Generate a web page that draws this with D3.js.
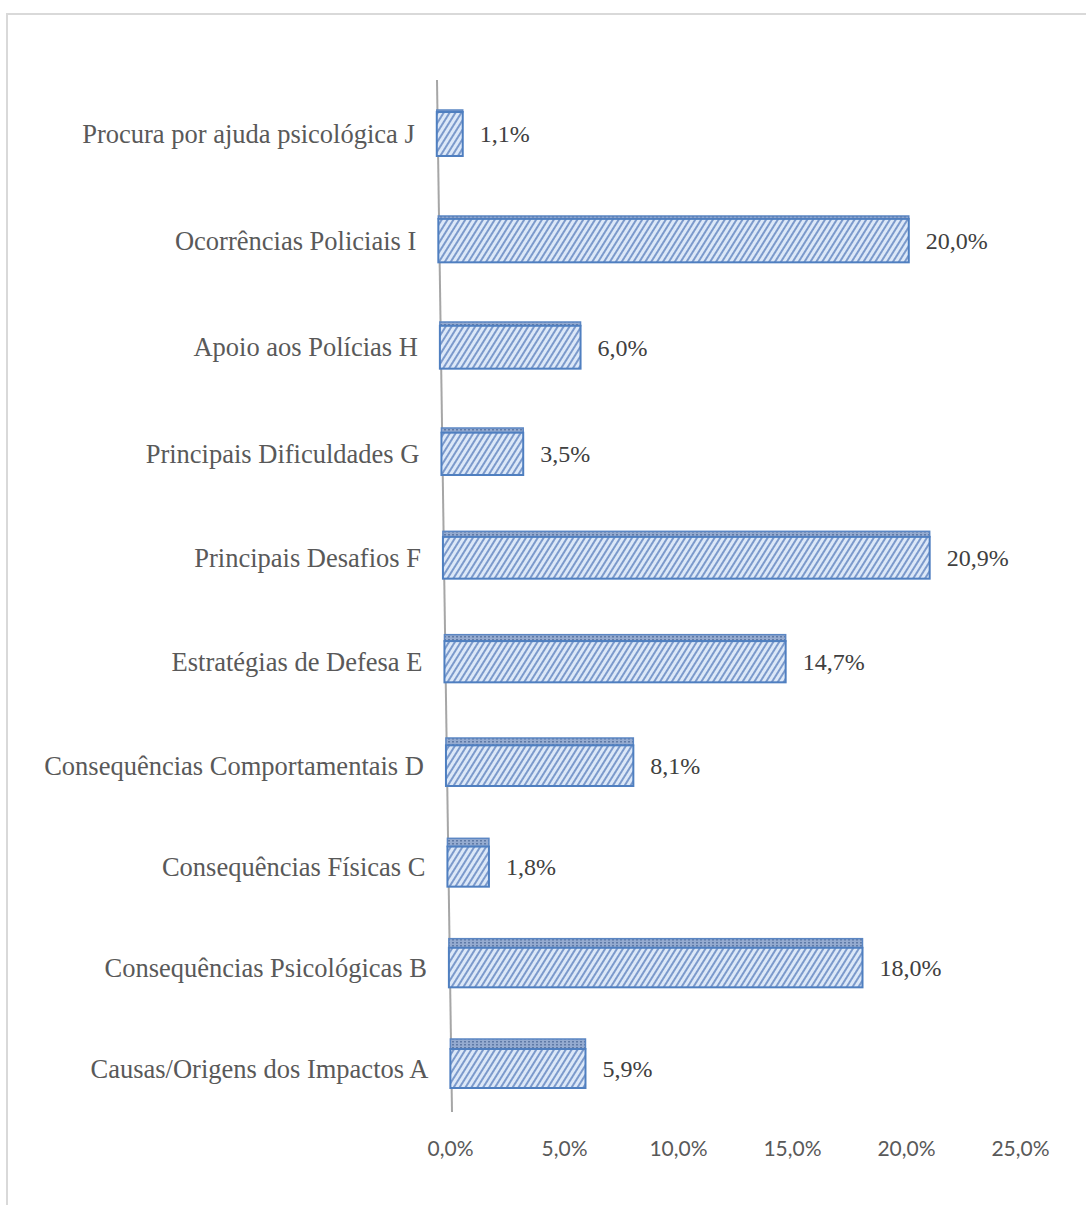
<!DOCTYPE html>
<html>
<head>
<meta charset="utf-8">
<script src="https://cdn.jsdelivr.net/npm/d3@7"></script>
<style>
  body { margin: 0; background: #fff; }
</style>
</head>
<body>
<script>
// data, bottom row first
var categories = [
  "Causas/Origens dos Impactos A",
  "Consequências Psicológicas B",
  "Consequências Físicas C",
  "Consequências Comportamentais D",
  "Estratégias de Defesa E",
  "Principais Desafios F",
  "Principais Dificuldades G",
  "Apoio aos Polícias H",
  "Ocorrências Policiais I",
  "Procura por ajuda psicológica J"
];
var values = [5.9, 18.0, 1.8, 8.1, 14.7, 20.9, 3.5, 6.0, 20.0, 1.1];
var tickValues = [0, 5, 10, 15, 20, 25];

var width = 1086;
var height = 1205;

var svg = d3.select('body').append('svg')
  .attr('width', width)
  .attr('height', height);

// chart border (only top and left are visible in the frame)
svg.append('path')
  .attr('d', 'M7,1205 L7,14 L1086,14')
  .attr('fill', 'none')
  .attr('stroke', '#d9d9d9')
  .attr('stroke-width', 2);

var defs = svg.append('defs');

var hatch = defs.append('pattern')
  .attr('id', 'hatch')
  .attr('patternUnits', 'userSpaceOnUse')
  .attr('width', 5)
  .attr('height', 5)
  .attr('patternTransform', 'rotate(32)');
hatch.append('rect').attr('width', 5).attr('height', 5).attr('fill', '#dce8f8');
hatch.append('line')
  .attr('x1', 1).attr('y1', 0).attr('x2', 1).attr('y2', 5)
  .attr('stroke', '#6386c0')
  .attr('stroke-width', 1.6);

var topHatch = defs.append('pattern')
  .attr('id', 'topHatch')
  .attr('patternUnits', 'userSpaceOnUse')
  .attr('width', 4)
  .attr('height', 3);
topHatch.append('rect').attr('width', 4).attr('height', 3).attr('fill', '#95abd0');
topHatch.append('rect').attr('width', 2).attr('height', 1.5).attr('fill', '#5f7aa6');

// perspective: rows get slightly closer together and the axis leans
var frontBottom = d3.scaleLinear().domain([0, 3, 6, 9]).range([1088, 786, 475, 156]);
var frontH = d3.scaleLinear().domain([0, 9]).range([39, 44]);
var depth = d3.scaleLinear().domain([0, 9]).range([10, 2]);
var axisX = d3.scaleLinear().domain([80, 1112]).range([437, 452]);
var unit = d3.scaleLinear().domain([0, 9]).range([22.9, 23.6]);

var rows = values.map(function(v, i) {
  var bottom = frontBottom(i);
  var top = bottom - frontH(i);
  var center = (top + bottom) / 2;
  var x0 = axisX(center) - 1;
  var x = d3.scaleLinear().domain([0, 25]).range([x0, x0 + 25 * unit(i)]);
  return { name: categories[i], value: v, top: top, bottom: bottom, center: center, x: x, d: depth(i) };
});

// leaning value axis line
svg.append('line')
  .attr('x1', axisX(80)).attr('y1', 80)
  .attr('x2', axisX(1112)).attr('y2', 1112)
  .attr('stroke', '#a6a6a6')
  .attr('stroke-width', 2);

var bar = svg.selectAll('g.bar').data(rows).enter().append('g').attr('class', 'bar');

// top face
bar.append('rect')
  .attr('x', function(d) { return d.x(0); })
  .attr('y', function(d) { return d.top - d.d; })
  .attr('width', function(d) { return d.x(d.value) - d.x(0); })
  .attr('height', function(d) { return d.d; })
  .attr('fill', 'url(#topHatch)')
  .attr('stroke', '#5b86c3')
  .attr('stroke-width', 1.5);

// front face
bar.append('rect')
  .attr('x', function(d) { return d.x(0); })
  .attr('y', function(d) { return d.top; })
  .attr('width', function(d) { return d.x(d.value) - d.x(0); })
  .attr('height', function(d) { return d.bottom - d.top; })
  .attr('fill', 'url(#hatch)')
  .attr('stroke', '#4f7fc0')
  .attr('stroke-width', 2);

// value labels
bar.append('text')
  .attr('x', function(d) { return d.x(d.value) + 17; })
  .attr('y', function(d) { return d.center; })
  .attr('dy', '0.35em')
  .attr('font-family', '"Liberation Serif", "Times New Roman", serif')
  .attr('font-size', 24)
  .attr('fill', '#404040')
  .text(function(d) { return d.value.toFixed(1).replace('.', ',') + '%'; });

// category labels
bar.append('text')
  .attr('x', function(d) { return d.x(0) - 22; })
  .attr('y', function(d) { return d.center; })
  .attr('dy', '0.35em')
  .attr('text-anchor', 'end')
  .attr('font-family', '"Liberation Serif", "Times New Roman", serif')
  .attr('font-size', 26.5)
  .attr('fill', '#595959')
  .text(function(d) { return d.name; });

// bottom tick labels
var xAxisScale = d3.scaleLinear().domain([0, 25]).range([450, 1020]);
var xAxis = d3.axisBottom(xAxisScale)
  .tickValues(tickValues)
  .tickSize(0)
  .tickPadding(0)
  .tickFormat(function(d) { return d.toFixed(1).replace('.', ',') + '%'; });

var gx = svg.append('g')
  .attr('transform', 'translate(0,1141)')
  .call(xAxis);
gx.select('.domain').remove();
gx.selectAll('text')
  .attr('font-family', 'Lato, "Open Sans", sans-serif')
  .attr('font-size', 21)
  .attr('fill', '#595959');
</script>
</body>
</html>
